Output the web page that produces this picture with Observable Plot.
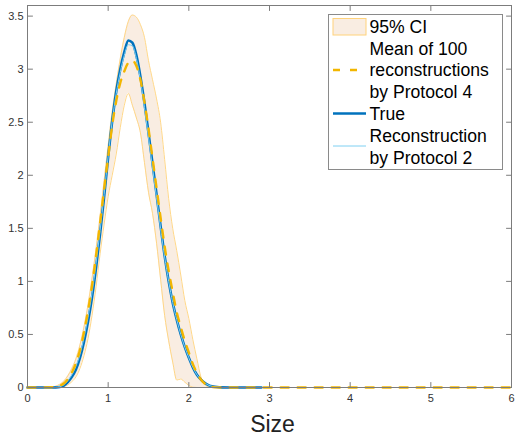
<!DOCTYPE html>
<html>
<head>
<meta charset="utf-8">
<script src="https://cdn.jsdelivr.net/npm/d3@7"></script>
<script src="https://cdn.jsdelivr.net/npm/@observablehq/plot@0.6"></script>
<style>
  html, body { margin: 0; padding: 0; background: #fff; }
  #chart { position: relative; width: 516px; height: 437px; font-family: "Liberation Sans", Arial, Helvetica, sans-serif; }
  #legend { position: absolute; left: 327.5px; top: 14px; }
</style>
</head>
<body>
<div id="chart"></div>
<script>
// Particle size grid
const size = [0, 0.3, 0.35, 0.4, 0.45, 0.5, 0.55, 0.6, 0.65, 0.7, 0.75, 0.8, 0.85, 0.9, 0.95,
  1.0, 1.05, 1.1, 1.15, 1.2, 1.25, 1.3, 1.35, 1.4, 1.45, 1.5, 1.55, 1.6, 1.65, 1.7, 1.75,
  1.8, 1.85, 1.9, 1.95, 2.0, 2.05, 2.1, 2.15, 2.2, 2.25, 2.3, 2.35, 2.4, 2.5, 2.9, 6];

// True size distribution
const trueDensity = [0, 0, 0.001, 0.005, 0.018, 0.05, 0.1, 0.17, 0.28, 0.43, 0.62, 0.85, 1.13, 1.45, 1.8,
  2.17, 2.51, 2.79, 3.0, 3.16, 3.27, 3.25, 3.13, 2.93, 2.68, 2.40, 2.11, 1.82, 1.52, 1.24, 1.0,
  0.8, 0.64, 0.5, 0.38, 0.28, 0.19, 0.12, 0.075, 0.042, 0.02, 0.01, 0.004, 0.001, 0, 0, null];

// Mean of 100 reconstructions (Protocol 4)
const meanP4 = [0, 0.003, 0.008, 0.018, 0.038, 0.08, 0.14, 0.23, 0.35, 0.52, 0.72, 0.96, 1.24, 1.55, 1.87,
  2.17, 2.47, 2.7, 2.87, 2.98, 3.06, 3.08, 3.03, 2.9, 2.69, 2.44, 2.16, 1.88, 1.6, 1.33, 1.1,
  0.9, 0.71, 0.57, 0.44, 0.33, 0.22, 0.14, 0.075, 0.035, 0.012, 0.004, 0.001, 0, 0, 0, 0];

// 95% confidence band
const lowerCI = [0, 0, 0, 0.001, 0.008, 0.025, 0.055, 0.1, 0.18, 0.3, 0.46, 0.68, 0.95, 1.26, 1.54,
  1.8, 2.0, 2.2, 2.45, 2.66, 2.77, 2.66, 2.54, 2.4, 2.12, 1.84, 1.64, 1.36, 1.02, 0.68, 0.44,
  0.24, 0.07, 0.08, 0.05, 0.02, 0.003, 0, 0, 0, 0, 0, 0, 0, 0, 0, 0];
const upperCI = [0, 0.005, 0.012, 0.03, 0.06, 0.11, 0.18, 0.27, 0.4, 0.57, 0.78, 1.03, 1.31, 1.62, 1.95,
  2.28, 2.6, 2.86, 3.1, 3.3, 3.45, 3.51, 3.49, 3.42, 3.3, 3.08, 2.9, 2.72, 2.5, 2.15, 1.78,
  1.5, 1.29, 1.06, 0.82, 0.65, 0.45, 0.27, 0.1, 0.025, 0.005, 0, 0, 0, 0, 0, 0];

// Single reconstruction (Protocol 2)
const reconP2 = [0, 0, 0.002, 0.008, 0.025, 0.065, 0.12, 0.2, 0.31, 0.47, 0.66, 0.89, 1.17, 1.48, 1.82,
  2.18, 2.51, 2.77, 2.97, 3.13, 3.23, 3.22, 3.1, 2.9, 2.64, 2.36, 2.07, 1.79, 1.5, 1.23, 1.0,
  0.8, 0.64, 0.5, 0.38, 0.28, 0.19, 0.12, 0.075, 0.042, 0.02, 0.01, 0.004, 0.001, 0, 0, null];

const xTicks = [0, 1, 2, 3, 4, 5, 6];
const yTicks = [0, 0.5, 1, 1.5, 2, 2.5, 3, 3.5];
const xLabel = "Size";
const legendLines = ["95% CI", "Mean of 100", "reconstructions", "by Protocol 4", "True", "Reconstruction", "by Protocol 2"];

const rows = size.map((s, i) => ({
  size: s, truth: trueDensity[i], mean: meanP4[i], lower: lowerCI[i], upper: upperCI[i], p2: reconP2[i]
}));

const colors = { band: "#f9ede2", bandEdge: "#ffd27a", truth: "#0072bd", mean: "#f2b600", p2: "#7fd0f2", axis: "#7c7c7c" };
const curve = "monotone-x";

// inward tick: a short stroke drawn from the anchor point
const tickShape = { draw(context, l) { context.moveTo(0, 0); context.lineTo(0, -l); } };
const tickOpts = { length: 5, anchor: "start", shape: tickShape, stroke: colors.axis, strokeWidth: 1 };

const plot = Plot.plot({
  width: 516, height: 437,
  marginLeft: 27, marginRight: 5, marginTop: 5, marginBottom: 50,
  x: { domain: [0, 6] },
  y: { domain: [0, 3.6] },
  style: { fontFamily: "'Liberation Sans', Arial, Helvetica, sans-serif", fontSize: "11px", color: "#333", background: "white", overflow: "visible" },
  marks: [
    Plot.areaY(rows, { x: "size", y1: "lower", y2: "upper", fill: colors.band, curve }),
    Plot.lineY(rows, { x: "size", y: "upper", stroke: colors.bandEdge, strokeWidth: 0.9, curve }),
    Plot.lineY(rows, { x: "size", y: "lower", stroke: colors.bandEdge, strokeWidth: 0.9, curve }),
    Plot.lineY(rows, { x: "size", y: "truth", stroke: colors.truth, strokeWidth: 2.6, curve }),
    Plot.lineY(rows, { x: "size", y: "p2", stroke: colors.p2, strokeWidth: 1, curve }),
    Plot.lineY(rows, { x: "size", y: "mean", stroke: colors.mean, strokeWidth: 2.4, strokeDasharray: "8,9", curve }),
    Plot.frame({ stroke: colors.axis }),
    Plot.vector(xTicks, { x: d => d, y: 0, rotate: 0, ...tickOpts }),
    Plot.vector(xTicks, { x: d => d, y: 3.6, rotate: 180, ...tickOpts }),
    Plot.vector(yTicks, { x: 0, y: d => d, rotate: 90, ...tickOpts }),
    Plot.vector(yTicks, { x: 6, y: d => d, rotate: -90, ...tickOpts }),
    Plot.axisX({ ticks: xTicks, tickSize: 0, tickPadding: 7, tickFormat: d => `${d}`, label: null }),
    Plot.axisY({ ticks: yTicks, tickSize: 0, tickPadding: 4, tickFormat: d => `${d}`, label: null }),
    Plot.text([xLabel], { frameAnchor: "bottom", dx: 3, dy: 44, fontSize: 23, fill: "#222" })
  ]
});

const chart = document.getElementById("chart");
chart.appendChild(plot);

// Legend box drawn over the plot area
const ns = "http://www.w3.org/2000/svg";
const lw = 175, lh = 156;
const leg = document.createElementNS(ns, "svg");
leg.setAttribute("id", "legend");
leg.setAttribute("width", lw);
leg.setAttribute("height", lh);
const el = (tag, attrs) => {
  const e = document.createElementNS(ns, tag);
  for (const [k, v] of Object.entries(attrs)) e.setAttribute(k, v);
  leg.appendChild(e);
  return e;
};
el("rect", { x: 0.5, y: 0.5, width: lw - 1, height: lh - 1, fill: "white", stroke: "#8a8a8a", "stroke-width": 1 });
el("rect", { x: 5, y: 4.5, width: 33, height: 16.5, fill: colors.band, stroke: colors.bandEdge, "stroke-width": 1 });
el("line", { x1: 5, x2: 38, y1: 56, y2: 56, stroke: colors.mean, "stroke-width": 2.4, "stroke-dasharray": "7,10" });
el("line", { x1: 5, x2: 38, y1: 99.5, y2: 99.5, stroke: colors.truth, "stroke-width": 2.6 });
el("line", { x1: 5, x2: 38, y1: 132, y2: 132, stroke: colors.p2, "stroke-width": 1 });
legendLines.forEach((t, i) => {
  const tx = el("text", { x: 41.5, y: 18.7 + i * 21.8, "font-size": 17.6, fill: "#000",
    "font-family": "'Liberation Sans', Arial, Helvetica, sans-serif" });
  tx.textContent = t;
});
chart.appendChild(leg);
</script>
</body>
</html>
